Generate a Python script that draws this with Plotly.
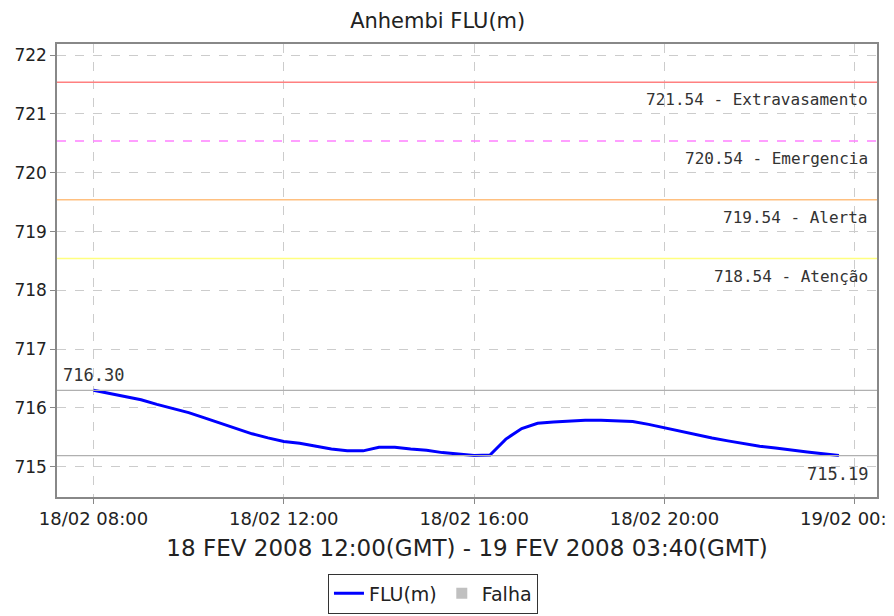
import plotly.graph_objects as go
import pandas as pd

times = pd.date_range("2008-02-18 08:00", "2008-02-18 23:40", freq="20min")
flu = [716.30, 716.25, 716.19, 716.14, 716.06, 715.99, 715.92, 715.83, 715.74, 715.64,
       715.56, 715.49, 715.43, 715.40, 715.35, 715.30, 715.27, 715.27, 715.33, 715.33,
       715.30, 715.28, 715.24, 715.21, 715.19, 715.20, 715.47, 715.65, 715.74, 715.76,
       715.78, 715.79, 715.79, 715.78, 715.77, 715.72, 715.66, 715.61, 715.55, 715.49,
       715.44, 715.39, 715.35, 715.32, 715.28, 715.25, 715.22, 715.19]

thr_values = [721.54, 720.54, 719.54, 718.54]
thr_names = ["Extravasamento", "Emergencia", "Alerta", "Atenção"]
thr_colors = ["#ff8080", "#ff80ff", "#ffc080", "#ffff80"]
thr_dash = ["solid", "dash", "solid", "solid"]

x_start = "2008-02-18 07:14"
x_end = "2008-02-19 00:28"

fig = go.Figure()
fig.add_trace(go.Scatter(x=list(times), y=flu, mode="lines", name="FLU(m)",
                         line=dict(color="#0000ff", width=3)))
fig.add_trace(go.Scatter(x=[None], y=[None], mode="markers", name="Falha",
                         marker=dict(symbol="square", color="#c0c0c0", size=11)))

for v, n, c, d in zip(thr_values, thr_names, thr_colors, thr_dash):
    fig.add_shape(type="line", xref="paper", x0=0, x1=1, yref="y", y0=v, y1=v,
                  line=dict(color=c, width=1.5, dash=d))
    fig.add_annotation(xref="paper", x=1, xshift=-7, yref="y", y=v, text=f"{v:.2f} - {n}",
                       showarrow=False, xanchor="right", yanchor="top", yshift=-6,
                       font=dict(family="DejaVu Sans Mono", size=16, color="#333333"))

# min/max reference lines
for v in [flu[0], flu[-1]]:
    fig.add_shape(type="line", xref="paper", x0=0, x1=1, yref="y", y0=v, y1=v,
                  line=dict(color="#b0b0b0", width=1.2))

fig.add_annotation(x=times[0], y=flu[0], text=f"{flu[0]:.2f}", showarrow=False,
                   xanchor="center", yanchor="bottom", yshift=3,
                   font=dict(family="DejaVu Sans Mono", size=17, color="#333333"))
fig.add_annotation(xref="paper", x=1, xshift=-7, y=flu[-1], text=f"{flu[-1]:.2f}",
                   showarrow=False, xanchor="right", yanchor="top", yshift=-6,
                   font=dict(family="DejaVu Sans Mono", size=17, color="#333333"))

fig.update_layout(
    width=886, height=608,
    margin=dict(l=49, r=17, t=36, b=119),
    paper_bgcolor="white", plot_bgcolor="white",
    font=dict(family="DejaVu Sans", color="#222222"),
    title=dict(text="Anhembi FLU(m)", x=0.485, xanchor="center", y=0.980, yanchor="middle",
               font=dict(size=21, color="#222222")),
    showlegend=True,
    legend=dict(orientation="h", x=0.4585, xanchor="center",
                yref="container", y=0.037, yanchor="middle",
                bordercolor="#333333", borderwidth=1, font=dict(size=19),
                itemwidth=30, tracegroupgap=0),
)
fig.update_xaxes(
    range=[x_start, x_end], type="date", automargin=False,
    tick0="2008-02-18 08:00", dtick=4 * 3600 * 1000, tickformat="%d/%m %H:%M",
    ticklabeloverflow="allow", ticklabelstandoff=0,
    showgrid=True, gridcolor="#cccccc", griddash="dash", gridwidth=1,
    showline=True, linecolor="#888888", linewidth=1.5, mirror=True,
    ticks="outside", ticklen=5, tickcolor="#888888",
    tickfont=dict(size=18, color="#222222"),
    title=dict(text="18 FEV 2008 12:00(GMT) - 19 FEV 2008 03:40(GMT)",
               font=dict(size=23, color="#222222"), standoff=12),
    zeroline=False,
)
fig.update_yaxes(
    range=[714.485, 722.19], dtick=1, tick0=715, automargin=False,
    showgrid=True, gridcolor="#cccccc", griddash="dash", gridwidth=1,
    showline=True, linecolor="#888888", linewidth=1.5, mirror=True,
    ticks="outside", ticklen=5, tickcolor="#888888",
    tickfont=dict(size=17, color="#222222"), zeroline=False,
)

fig.write_html("out.html")
